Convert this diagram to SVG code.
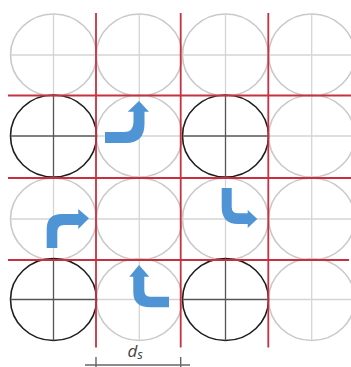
<svg xmlns="http://www.w3.org/2000/svg" width="351" height="367" viewBox="0 0 351 367">
<style>
.g{--c:#c9c9c9;--l:#d4d4d4}
.k{--c:#1e1e1e;--l:#555}
.c{fill:none;stroke:var(--c);stroke-width:1.6}
.x{stroke:var(--l);stroke-width:1.3}
.r{stroke:#c8303f;stroke-width:1.8;fill:none}
.a{fill:#4f94d4}
.d{stroke:#666;stroke-width:1.4}
text{font-family:"Open Sans","DejaVu Sans",sans-serif;font-style:italic;fill:#444}
</style>
<defs>
<g id="cross"><ellipse class="c" cx="0" cy="0" rx="43" ry="41"/><line class="x" x1="-43" y1="0" x2="43" y2="0"/><line class="x" x1="0" y1="-41" x2="0" y2="41"/></g>
</defs>
<rect width="351" height="367" fill="#fff"/>
<g id="circles-light" class="g">
<use href="#cross" x="53.5" y="55"/><use href="#cross" x="139.3" y="55"/><use href="#cross" x="225.5" y="55"/><use href="#cross" x="311.7" y="55"/>
<use href="#cross" x="139.3" y="136"/><use href="#cross" x="311.7" y="136"/>
<use href="#cross" x="53.5" y="219"/><use href="#cross" x="139.3" y="219"/><use href="#cross" x="225.5" y="219"/><use href="#cross" x="311.7" y="219"/>
<use href="#cross" x="139.3" y="299.5"/><use href="#cross" x="311.7" y="299.5"/>
</g>
<g id="circles-dark" class="k">
<use href="#cross" x="53.5" y="136"/><use href="#cross" x="225.5" y="136"/>
<use href="#cross" x="53.5" y="299.5"/><use href="#cross" x="225.5" y="299.5"/>
</g>
<g id="connectors">
<g class="r">
<line x1="96" y1="13" x2="96" y2="347.500"/><line x1="180.700" y1="13" x2="180.700" y2="347.500"/><line x1="268.300" y1="13" x2="268.300" y2="347.500"/>
<line x1="8" y1="95.500" x2="351" y2="95.500"/><line x1="8" y1="178" x2="351" y2="178"/><line x1="8" y1="260" x2="349" y2="260"/>
</g>
<path class="a" d="M105 132H124Q133.500 132 133.500 122V111.700H127.700L139 101L149 111.700H144.500V124Q144.500 143 126 143H105Z"/>
<path class="a" d="M46.700 248V229Q46.700 214 62 214H78.300V209L89 218.300L78.300 229V225H64Q57.300 225 57.300 232V248Z"/>
<path class="a" d="M169 296.700H150Q144.300 296.700 144.300 290V276.700H149.300L139 265L129.300 276.700H133.300V292Q133.300 307.300 150 307.300H169Z"/>
<path class="a" d="M221.700 188H231.700V207Q231.700 213.300 238 213.300H247.700V210L257.300 219L247.700 228V224H238Q221.700 224 221.700 207Z"/>
</g>
<g id="dimension">
<line class="d" x1="85" y1="365" x2="190" y2="365"/>
<line class="d" x1="96" y1="357" x2="96" y2="367"/>
<line class="d" x1="180.700" y1="357" x2="180.700" y2="367"/>
<text x="127.500" y="357" font-size="17">d<tspan font-size="13" dy="2">s</tspan></text>
</g>
</svg>
